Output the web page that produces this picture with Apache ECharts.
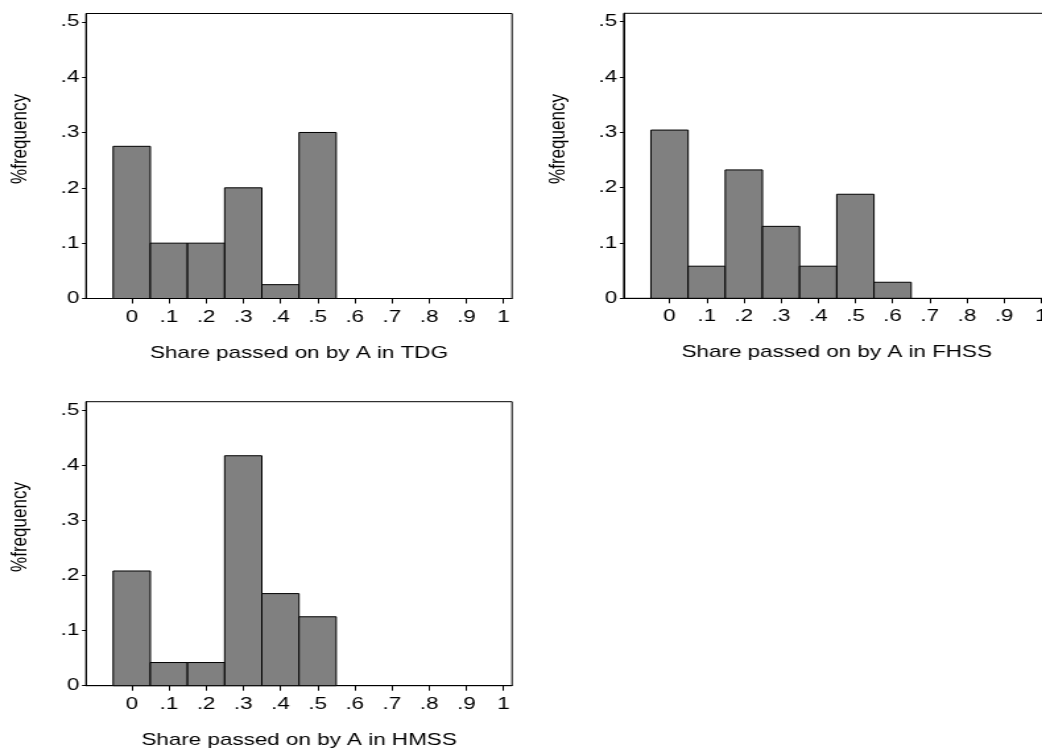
<!DOCTYPE html>
<html><head><meta charset="utf-8">
<script src="https://cdn.jsdelivr.net/npm/echarts@6/dist/echarts.min.js"></script>
<style>
html,body{margin:0;padding:0;overflow:hidden;background:#fff;width:1042px;height:753px}
#wrap{width:1042px;height:753px;overflow:hidden;position:relative}
#c{width:790px;height:753px;transform:scaleX(1.319);transform-origin:0 0}
</style>
</head><body><div id="wrap"><div id="c"></div></div>
<script>
// ---- data ----
const binCenters = [0, 0.1, 0.2, 0.3, 0.4, 0.5, 0.6];
const tdgShares  = [0.275, 0.100, 0.100, 0.200, 0.025, 0.300];
const fhssShares = [0.304, 0.058, 0.232, 0.130, 0.058, 0.188, 0.029];
const hmssShares = [0.208, 0.042, 0.042, 0.417, 0.167, 0.125];
const xTickValues = [0, 0.1, 0.2, 0.3, 0.4, 0.5, 0.6, 0.7, 0.8, 0.9, 1];
const xTickLabels = ['0', '.1', '.2', '.3', '.4', '.5', '.6', '.7', '.8', '.9', '1'];
const yTickValues = [0, 0.1, 0.2, 0.3, 0.4, 0.5];
const yTickLabels = ['0', '.1', '.2', '.3', '.4', '.5'];
const panelTitles = ['Share passed on by A in TDG', 'Share passed on by A in FHSS', 'Share passed on by A in HMSS'];
const yTitle = '%frequency';
const binWidth = 0.1;

const FONT = '"Liberation Sans", Arial, Helvetica, sans-serif';
const FS = 17;
const panels = [
  {grid: {left: 65.2, top: 13.5, width: 323, height: 285}, data: tdgShares, ytx: 15.2, yty: 139},
  {grid: {left: 472.9, top: 13.3, width: 323, height: 285}, data: fhssShares, ytx: 423, yty: 139},
  {grid: {left: 65.2, top: 401.7, width: 323, height: 284}, data: hmssShares, ytx: 15.2, yty: 527}
];

function renderBar(params, api) {
  const x = api.value(0), y = api.value(1);
  const p0 = api.coord([x - binWidth / 2, y]);
  const p1 = api.coord([x + binWidth / 2, 0]);
  return {
    type: 'rect',
    shape: {x: p0[0], y: p0[1], width: p1[0] - p0[0], height: p1[1] - p0[1]},
    style: {fill: '#808080', stroke: '#000', lineWidth: 1}
  };
}

const option = {
  animation: false,
  backgroundColor: '#fff',
  grid: panels.map(p => Object.assign({show: true, borderColor: '#000', borderWidth: 1, backgroundColor: '#fff',
    containLabel: false, outerBoundsMode: 'none'}, p.grid)),
  xAxis: panels.map((p, i) => ({
    type: 'value', gridIndex: i, min: -0.123, max: 1.023,
    axisLine: {show: true, onZero: false, lineStyle: {color: '#000', width: 1}},
    axisTick: {show: true, customValues: xTickValues, length: 5, lineStyle: {color: '#000', width: 1}},
    axisLabel: {show: true, customValues: xTickValues, margin: 10, fontSize: FS, color: '#000', fontFamily: FONT,
      formatter: v => xTickLabels[Math.round(v * 10)]},
    splitLine: {show: false},
    name: panelTitles[i], nameLocation: 'middle', nameGap: 46,
    nameTextStyle: {fontSize: FS, color: '#000', fontFamily: FONT}
  })),
  yAxis: panels.map((p, i) => ({
    type: 'value', gridIndex: i, min: 0, max: 0.515,
    axisLine: {show: true, onZero: false, lineStyle: {color: '#000', width: 1}},
    axisTick: {show: true, customValues: yTickValues, length: 3, lineStyle: {color: '#000', width: 1}},
    axisLabel: {show: true, customValues: yTickValues, margin: 5, fontSize: FS, color: '#000', fontFamily: FONT,
      formatter: v => yTickLabels[Math.round(v * 10)]},
    splitLine: {show: false}
  })),
  graphic: panels.map(p => ({
    type: 'text', x: p.ytx, y: p.yty, rotation: Math.PI / 2,
    style: {text: yTitle, fontSize: FS, fill: '#000', fontFamily: FONT, align: 'center', verticalAlign: 'middle'}
  })),
  series: panels.map((p, i) => ({
    type: 'custom', xAxisIndex: i, yAxisIndex: i,
    renderItem: renderBar,
    data: p.data.map((v, k) => [binCenters[k], v]),
    encode: {x: 0, y: 1}
  }))
};

const chart = echarts.init(document.getElementById('c'), null, {renderer: 'canvas'});
chart.setOption(option);
</script>
</body></html>
